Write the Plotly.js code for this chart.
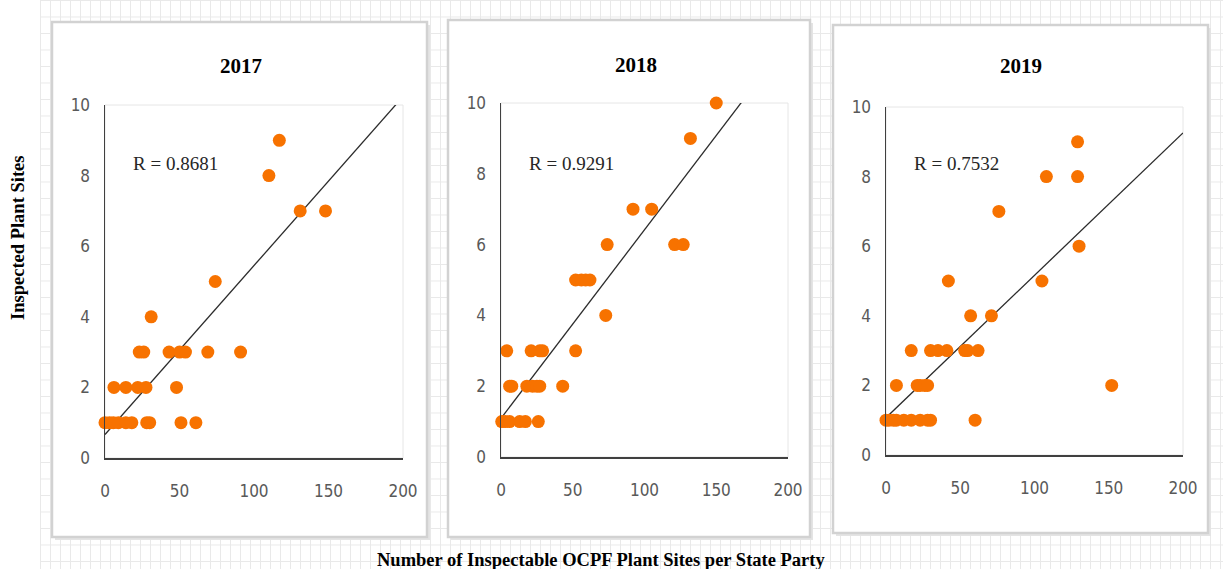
<!DOCTYPE html>
<html>
<head>
<meta charset="utf-8">
<script src="https://cdn.plot.ly/plotly-3.0.1.min.js"></script>
<style>
  html, body { margin:0; padding:0; background:#ffffff; }
  #wrap { position:relative; width:1223px; height:569px; overflow:hidden; }
  #grid { position:absolute; left:40px; top:0; width:1183px; height:569px;
    background-image: linear-gradient(to right, #e9e9e9 1px, transparent 1px),
                      linear-gradient(to bottom, #e9e9e9 1px, transparent 1px);
    background-size: 10px 16.5px; }
  #chart { position:absolute; left:0; top:0; width:1223px; height:569px; }
</style>
</head>
<body>
<div id="wrap"><div id="grid"></div><div id="chart"></div></div>
<script>
// ---- data ----
const years = ["2017", "2018", "2019"];
const rLabels = ["R = 0.8681", "R = 0.9291", "R = 0.7532"];

const x2017 = [117,110,131,148,74,31, 23,26,43,50,54,69,91, 6,14,22,27.5,48, 0,3,5.6,9,14,18,28,30,51,61];
const y2017 = [9,8,7,7,5,4, 3,3,3,3,3,3,3, 2,2,2,2,2, 1,1,1,1,1,1,1,1,1,1];

const x2018 = [150,132,92,105,74,121,127, 52,56,59,62, 73, 4,21,27,29,52, 6,7.5,18,22,25,27,43, 0.5,3,6,13,17,26];
const y2018 = [10,9,7,7,6,6,6, 5,5,5,5, 4, 3,3,3,3,3, 2,2,2,2,2,2,2, 1,1,1,1,1,1];

const x2019 = [129,108,129,76,130,105,42, 57,71, 17,30,35,41,53,55,62, 7,21,23,26,28,152, 0,2,5,7,12,17,23,28,30,60];
const y2019 = [9,8,8,7,6,5,5, 4,4, 3,3,3,3,3,3,3, 2,2,2,2,2,2, 1,1,1,1,1,1,1,1,1,1];

const xTicks = [0, 50, 100, 150, 200];
const yTicks = [0, 2, 4, 6, 8, 10];

const xs = [x2017, x2018, x2019];
const ys = [y2017, y2018, y2019];

// ---- layout geometry (pixels) ----
const W = 1223, H = 569;
const plots = [
  {l:105, r:403, t:105, b:458},
  {l:501, r:788, t:103, b:457},
  {l:886, r:1183, t:107, b:455}
];
const boxes = [
  {l:52, r:427, t:22, b:537},
  {l:448, r:810, t:20, b:537},
  {l:833, r:1208, t:25, b:533}
];
const titlePos = [{x:241, y:66}, {x:636, y:65}, {x:1021, y:66}];
const rPos = [{x:131, y:163}, {x:527, y:163}, {x:912, y:163}];

function px(x){ return x / W; }
function py(y){ return 1 - y / H; }

function ols(x, y){
  const n = x.length;
  const mx = x.reduce((a,b)=>a+b,0)/n, my = y.reduce((a,b)=>a+b,0)/n;
  let sxy=0, sxx=0;
  for (let i=0;i<n;i++){ sxy += (x[i]-mx)*(y[i]-my); sxx += (x[i]-mx)*(x[i]-mx); }
  const m = sxy/sxx; return {m:m, b:my - m*mx};
}

const traces = [];
const layout = {
  width: W, height: H,
  margin: {l:0, r:0, t:0, b:0},
  paper_bgcolor: 'rgba(0,0,0,0)',
  plot_bgcolor: 'rgba(0,0,0,0)',
  showlegend: false,
  shapes: [],
  annotations: []
};

const tickFont = {family: 'DejaVu Sans Condensed, Liberation Sans Narrow, sans-serif', size: 17, color: '#595959'};

for (let i=0;i<3;i++){
  const s = i===0 ? '' : String(i+1);
  const p = plots[i], bx = boxes[i];
  layout.shapes.push({type:'rect', xref:'paper', yref:'paper', layer:'below',
    x0:px(bx.l+3), x1:px(bx.r+3), y0:py(bx.b+3), y1:py(bx.t+3),
    fillcolor:'#e4e4e4', line:{width:0}});
  layout.shapes.push({type:'rect', xref:'paper', yref:'paper', layer:'below',
    x0:px(bx.l), x1:px(bx.r), y0:py(bx.b), y1:py(bx.t),
    fillcolor:'#ffffff', line:{color:'#d2d2d2', width:2.5}});
  layout.shapes.push({type:'rect', xref:'x'+s+' domain', yref:'y'+s+' domain', layer:'below',
    x0:0, x1:1, y0:0, y1:1, line:{color:'#e6e6e6', width:1}});

  layout['xaxis'+s] = {
    domain:[px(p.l), px(p.r)], anchor:'y'+s, range:[0,200],
    tickvals:xTicks, ticktext:xTicks.map(String),
    showgrid:false, zeroline:false, showline:true, linecolor:'#404040', linewidth:1.5,
    ticks:'', tickfont:tickFont, ticklabelstandoff:17, fixedrange:true
  };
  layout['yaxis'+s] = {
    domain:[py(p.b), py(p.t)], anchor:'x'+s, range:[0,10],
    tickvals:yTicks, ticktext:yTicks.map(String),
    showgrid:false, zeroline:false, showline:true, linecolor:'#404040', linewidth:1.5,
    ticks:'', tickfont:tickFont, ticklabelstandoff:10, fixedrange:true
  };

  const f = ols(xs[i], ys[i]);
  traces.push({type:'scatter', mode:'lines', x:[0,200], y:[f.b, f.b+f.m*200],
    xaxis:'x'+s, yaxis:'y'+s, line:{color:'#2b2b2b', width:1.3}, hoverinfo:'skip'});
  traces.push({type:'scatter', mode:'markers', x:xs[i], y:ys[i],
    xaxis:'x'+s, yaxis:'y'+s, cliponaxis:false,
    marker:{color:'#F77200', size:13, line:{width:0}}});

  layout.annotations.push({xref:'paper', yref:'paper', x:px(titlePos[i].x), y:py(titlePos[i].y),
    text:'<b>'+years[i]+'</b>', showarrow:false, xanchor:'center', yanchor:'middle',
    font:{family:'Liberation Serif, serif', size:21, color:'#000'}});
  layout.annotations.push({xref:'paper', yref:'paper', x:px(rPos[i].x), y:py(rPos[i].y),
    text:rLabels[i], showarrow:false, xanchor:'left', yanchor:'middle',
    font:{family:'Liberation Serif, serif', size:19, color:'#262626'}});
}

layout.annotations.push({xref:'paper', yref:'paper', x:px(18), y:py(238),
  text:'<b>Inspected Plant Sites</b>', showarrow:false, textangle:-90,
  xanchor:'center', yanchor:'middle',
  font:{family:'Liberation Serif, serif', size:18.5, color:'#000'}});
layout.annotations.push({xref:'paper', yref:'paper', x:px(601), y:py(560),
  text:'<b>Number of Inspectable OCPF Plant Sites per State Party</b>', showarrow:false,
  xanchor:'center', yanchor:'middle',
  font:{family:'Liberation Serif, serif', size:18.5, color:'#000'}});

Plotly.newPlot('chart', traces, layout, {displayModeBar:false, staticPlot:true});
</script>
</body>
</html>
